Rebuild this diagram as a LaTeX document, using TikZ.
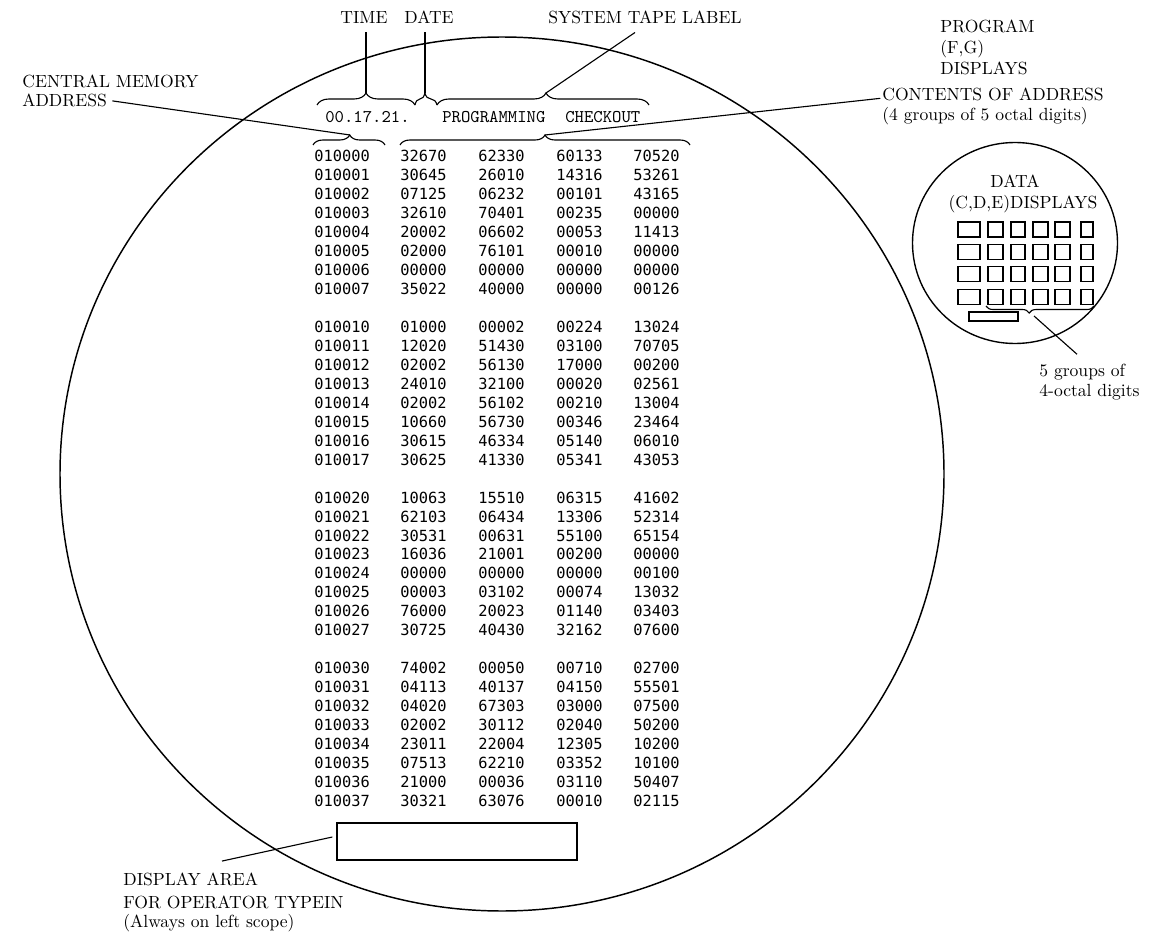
\documentclass[tikz,border=0pt]{standalone}
\usepackage{fontspec}
\newfontfamily\datafont{DejaVu Sans Mono}
\usetikzlibrary{decorations.pathreplacing,calc}
\begin{document}
\begin{tikzpicture}[x=0.58pt,y=-0.58pt,
  lab/.style={font=\fontsize{10.2}{12}\selectfont, inner sep=0pt, anchor=base west},
  clab/.style={font=\fontsize{10.2}{12}\selectfont, inner sep=0pt, anchor=base},
  toplab/.style={font=\fontsize{10.2}{12}\selectfont, inner sep=4.5pt, anchor=base},
  datum/.style={font=\datafont\fontsize{8.9}{10}\selectfont, inner sep=0pt, anchor=base west},
  hdr/.style={font=\ttfamily\fontsize{10.35}{12}\selectfont, inner sep=0pt, anchor=base west},
  brc/.style={decorate, decoration={brace, amplitude=#1}, line width=0.65pt},
  conn/.style={line width=0.65pt},
  frame/.style={draw, line width=0.75pt}
]
\useasboundingbox (0,0) rectangle (1160,932);

% scope outlines
\draw[line width=0.85pt] (502,474) ellipse [x radius=442, y radius=437];
\draw[line width=0.8pt] (1015,243) ellipse [x radius=102.5, y radius=100.5];

% header line
\node[hdr] (hdrtime) at (325,123) {00.17.21.};
\node[hdr] (hdrprog) at (442,123) {PROGRAMMING};
\node[hdr] (hdrcheck) at (565,123) {CHECKOUT};

% braces
\draw[brc=6.96pt] (317,105) -- (415,105);
\draw[brc=6.96pt, decoration={aspect=0.45}] (415,105) -- (437,105);
\draw[brc=6.96pt, decoration={aspect=0.514}] (437,105) -- (649,105);
\draw[brc=5.8pt, decoration={aspect=0.51}] (313,145) -- (385,145);
\draw[brc=5.8pt] (400,145) -- (690,145);
\draw[brc=4.06pt, decoration={aspect=0.6}] (1094,306) -- (986,306);

\coordinate (tiptime) at (366,93);
\coordinate (tipdate) at (425,93);
\coordinate (tipstl) at (546,93);
\coordinate (tipaddr) at (350,135);
\coordinate (tipcont) at (545,135);
\coordinate (tipsmall) at (1034,316);

% top labels
\node[toplab] (time) at (364,24) {TIME};
\node[toplab] (date) at (429,24) {DATE};
\node[toplab] (stl) at (645,24) {SYSTEM TAPE LABEL};
\draw[conn] (tiptime |- time.south) -- (tiptime);
\draw[conn] (tipdate |- date.south) -- (tipdate);
\draw[conn] ([xshift=-5.8pt]stl.south) -- (tipstl);

% central memory address
\node[lab] (cm) at (22,88) {CENTRAL MEMORY};
\node[lab] (addr) at (22,107) {ADDRESS};
\draw[conn] ([xshift=3pt]addr.east) -- (tipaddr);

% program displays / contents
\node[lab] (prog1) at (940,33) {PROGRAM};
\node[lab] (prog2) at (940,54) {(F,G)};
\node[lab] (prog3) at (940,75) {DISPLAYS};
\node[lab] (cont1) at (882,101) {CONTENTS OF ADDRESS};
\node[lab] (cont2) at (882,121) {(4 groups of 5 octal digits)};
\draw[conn] ([xshift=-1pt,yshift=-2pt]cont1.west) -- (tipcont);

% data displays (right scope)
\node[clab] (data1) at (1015,188) {DATA};
\node[clab] (data2) at (1023,209) {(C,D,E)DISPLAYS};
\foreach \row in {0,...,3} {
  \foreach \xa/\xb in {958/980, 988/1003, 1011/1025, 1033/1048, 1055/1070, 1081/1093} {
    \draw[line width=0.7pt] (\xa,{222+22.4*\row}) rectangle (\xb,{237+22.4*\row});
  }
}
\draw[line width=0.7pt] (969,312) rectangle (1018,321);
\node[lab] (grp1) at (1039,376) {5 groups of};
\node[lab] (grp2) at (1039,396) {4-octal digits};
\draw[conn] (tipsmall) -- ($(grp1.north west)+(38,-9)$);

% memory dump
\foreach \ln/\ad/\a/\b/\c/\d in {
 0/010000/32670/62330/60133/70520,
 1/010001/30645/26010/14316/53261,
 2/010002/07125/06232/00101/43165,
 3/010003/32610/70401/00235/00000,
 4/010004/20002/06602/00053/11413,
 5/010005/02000/76101/00010/00000,
 6/010006/00000/00000/00000/00000,
 7/010007/35022/40000/00000/00126,
 9/010010/01000/00002/00224/13024,
 10/010011/12020/51430/03100/70705,
 11/010012/02002/56130/17000/00200,
 12/010013/24010/32100/00020/02561,
 13/010014/02002/56102/00210/13004,
 14/010015/10660/56730/00346/23464,
 15/010016/30615/46334/05140/06010,
 16/010017/30625/41330/05341/43053,
 18/010020/10063/15510/06315/41602,
 19/010021/62103/06434/13306/52314,
 20/010022/30531/00631/55100/65154,
 21/010023/16036/21001/00200/00000,
 22/010024/00000/00000/00000/00100,
 23/010025/00003/03102/00074/13032,
 24/010026/76000/20023/01140/03403,
 25/010027/30725/40430/32162/07600,
 27/010030/74002/00050/00710/02700,
 28/010031/04113/40137/04150/55501,
 29/010032/04020/67303/03000/07500,
 30/010033/02002/30112/02040/50200,
 31/010034/23011/22004/12305/10200,
 32/010035/07513/62210/03352/10100,
 33/010036/21000/00036/03110/50407,
 34/010037/30321/63076/00010/02115} {
  \node[datum] (ad\ad) at (314,{162+18.95*\ln}) {\ad};
  \node[datum] (ca\ad) at (400,{162+18.95*\ln}) {\a};
  \node[datum] (cb\ad) at (478,{162+18.95*\ln}) {\b};
  \node[datum] (cc\ad) at (556,{162+18.95*\ln}) {\c};
  \node[datum] (cd\ad) at (633,{162+18.95*\ln}) {\d};
}

% operator typein area
\node[frame, minimum width=139.2pt, minimum height=21.46pt, inner sep=0pt] (typein) at (457,841.5) {};
\node[lab] (disp1) at (123,885) {DISPLAY AREA};
\node[lab] (disp2) at (123,908) {FOR OPERATOR TYPEIN};
\node[lab] (disp3) at (123,927) {(Always on left scope)};
\draw[conn] ($(typein.west)+(-4,-4.5)$) -- ($(disp1.north west)+(99,-11)$);
\end{tikzpicture}
\end{document}
